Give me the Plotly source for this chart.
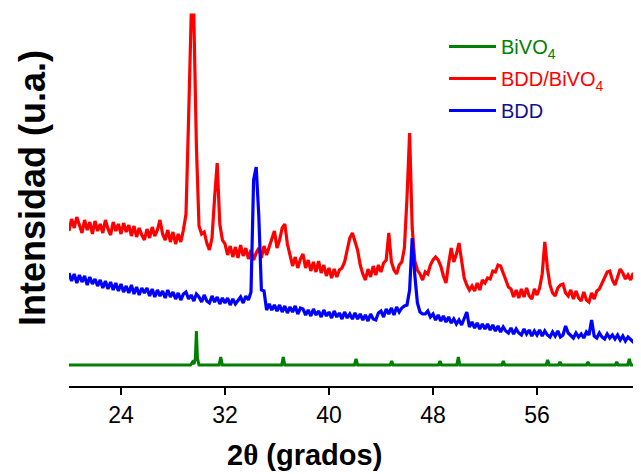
import plotly.graph_objects as go

# ---- data (2theta grid: start + step, as in an XRD scan file) ----
TWO_THETA_START = 20.0
TWO_THETA_STEP = 0.2

# BDD/BiVO4 (red), intensities in a.u., one value per grid step (20.0 ... 64.0)
bdd_bivo4 = [
    155, 167, 158, 169, 161, 153, 166, 156, 164, 152,   # 20.0-21.8
    165, 155, 162, 153, 166, 157, 151, 164, 155, 162,   # 22.0-23.8
    152, 163, 154, 161, 150, 160, 149, 158, 151, 146,   # 24.0-25.8
    157, 148, 159, 150, 156, 166, 152, 146, 156, 144,   # 26.0-27.8
    154, 142, 152, 144, 156, 172, 268, 371, 371, 240,   # 28.0-29.8
    160, 152, 154, 143, 136, 148, 188, 223, 162, 146,   # 30.0-31.8
    142, 131, 140, 129, 139, 128, 141, 130, 138, 127,   # 32.0-33.8
    136, 126, 133, 138, 128, 140, 131, 139, 147, 155,   # 34.0-35.8
    138, 146, 158, 162, 142, 131, 120, 129, 118, 127,   # 36.0-37.8
    132, 118, 126, 115, 124, 114, 125, 113, 121, 110,   # 38.0-39.8
    118, 108, 117, 109, 116, 118, 124, 136, 148, 153,   # 40.0-41.8
    145, 136, 121, 112, 106, 117, 109, 120, 111, 121,   # 42.0-43.8
    114, 123, 126, 153, 124, 116, 112, 121, 124, 138,   # 44.0-45.8
    188, 253, 158, 125, 116, 112, 106, 114, 112, 121,   # 46.0-47.8
    126, 129, 126, 120, 110, 103, 122, 138, 124, 132,   # 48.0-49.8
    143, 124, 108, 101, 96, 100, 95, 103, 96, 106,      # 50.0-51.8
    103, 108, 107, 115, 114, 121, 120, 113, 106, 99,    # 52.0-53.8
    97, 89, 96, 88, 97, 89, 98, 90, 87, 97,             # 54.0-55.8
    91, 98, 112, 144, 118, 101, 93, 90, 98, 101,        # 56.0-57.8
    102, 93, 90, 96, 87, 95, 88, 85, 94, 86,            # 58.0-59.8
    84, 93, 87, 95, 97, 103, 108, 114, 115, 106,        # 60.0-61.8
    101, 110, 117, 113, 107, 111, 106, 113, 104, 111,   # 62.0-63.8
    107,                                                # 64.0
]

# BDD (blue)
bdd = [
    113, 105, 112, 103, 111, 104, 110, 101, 109, 102,   # 20.0-21.8
    107, 100, 106, 98, 105, 97, 104, 96, 103, 95,       # 22.0-23.8
    102, 94, 100, 93, 101, 92, 99, 91, 98, 93,          # 24.0-25.8
    98, 90, 97, 89, 96, 90, 95, 88, 96, 89,             # 26.0-27.8
    94, 87, 93, 86, 92, 94, 87, 91, 85, 92,             # 28.0-29.8
    89, 84, 91, 85, 83, 90, 84, 89, 82, 88,             # 30.0-31.8
    83, 88, 81, 87, 82, 86, 89, 83, 90, 86,             # 32.0-33.8
    94, 206, 219, 170, 96, 95, 76, 82, 76, 81,          # 34.0-35.8
    75, 81, 74, 80, 73, 79, 74, 80, 72, 78,             # 36.0-37.8
    77, 71, 76, 70, 77, 71, 75, 69, 76, 70,             # 38.0-39.8
    74, 68, 75, 69, 73, 67, 74, 68, 72, 67,             # 40.0-41.8
    73, 67, 72, 66, 71, 65, 72, 67, 66, 73,             # 42.0-43.8
    75, 69, 77, 72, 78, 71, 79, 74, 78, 80,             # 44.0-45.8
    81, 96, 148, 111, 83, 74, 72, 72, 75, 69,           # 46.0-47.8
    72, 66, 71, 65, 70, 64, 69, 63, 67, 62,             # 48.0-49.8
    66, 61, 67, 74, 59, 64, 58, 63, 57, 62,             # 50.0-51.8
    57, 62, 56, 61, 55, 60, 54, 59, 55, 53,             # 52.0-53.8
    58, 52, 57, 53, 51, 57, 52, 56, 50, 55,             # 54.0-55.8
    51, 56, 50, 55, 51, 49, 54, 50, 55, 49,             # 56.0-57.8
    51, 60, 53, 50, 48, 53, 49, 52, 48, 54,             # 58.0-59.8
    51, 66, 50, 48, 53, 49, 47, 52, 48, 51,             # 60.0-61.8
    47, 51, 46, 50, 45, 49, 46, 44, 49, 45,             # 62.0-63.8
    47,                                                 # 64.0
]

# BiVO4 (green) reference pattern: flat baseline with sharp reflections
bivo4_two_theta = [20.0, 29.35, 29.5, 29.62, 29.72, 29.8, 29.88, 30.0,
                   31.55, 31.67, 31.8, 36.36, 36.48, 36.6, 41.96, 42.08, 42.2,
                   44.7, 44.82, 44.94, 48.42, 48.54, 48.66, 49.83, 49.95, 50.07,
                   53.29, 53.41, 53.53, 56.7, 56.82, 56.94, 57.65, 57.77, 57.89,
                   59.8, 59.92, 60.04, 62.01, 62.13, 62.25, 62.98, 63.10, 63.22, 64.0]
bivo4 = [21, 21, 24, 22, 28, 55, 28, 21,
         21, 29, 21, 21, 29, 21, 21, 27, 21,
         21, 25, 21, 21, 25, 21, 21, 29, 21,
         21, 25, 21, 21, 26, 21, 21, 24, 21,
         21, 24, 21, 21, 24, 21, 21, 27, 21, 21]

x_ticks = [24, 32, 40, 48, 56]
x_range = [20, 64]
y_range = [0, 378]

two_theta = [round(TWO_THETA_START + i * TWO_THETA_STEP, 2) for i in range(len(bdd_bivo4))]

FONT = "Arial, Liberation Sans, sans-serif"

fig = go.Figure()
fig.add_trace(go.Scatter(
    x=bivo4_two_theta, y=bivo4, mode="lines", legendgroup="g1",
    line=dict(color="#008000", width=3),
    name="<span style='color:#008000'>BiVO<sub>4</sub></span>"))
fig.add_trace(go.Scatter(
    x=two_theta, y=bdd_bivo4, mode="lines", legendgroup="g2",
    line=dict(color="#FF0000", width=3.2),
    name="<span style='color:#FF0000'>BDD/BiVO<sub>4</sub></span>"))
fig.add_trace(go.Scatter(
    x=two_theta, y=bdd, mode="lines", legendgroup="g3",
    line=dict(color="#0000FF", width=3.2),
    name="<span style='color:#10108C'>BDD</span>"))

fig.update_layout(
    width=633, height=466,
    margin=dict(l=61, r=0, t=0, b=88, autoexpand=False),
    paper_bgcolor="white", plot_bgcolor="white",
    font=dict(family=FONT, color="black"),
    showlegend=True,
    legend=dict(x=0.6556, y=0.9497, xanchor="left", yanchor="top",
                bgcolor="rgba(0,0,0,0)", font=dict(size=20, family=FONT),
                itemwidth=47, tracegroupgap=3),
    xaxis=dict(range=x_range, tickmode="array", tickvals=x_ticks,
               ticktext=[str(v) for v in x_ticks], automargin=False,
               showline=True, linecolor="black", linewidth=2,
               ticks="outside", ticklen=7, tickwidth=2, tickcolor="black",
               tickfont=dict(size=23, family=FONT, color="black"),
               showgrid=False, zeroline=False),
    yaxis=dict(range=y_range, showticklabels=False, showline=False,
               showgrid=False, zeroline=False, ticks="", automargin=False),
    annotations=[
        dict(text="2<span style='font-family:Liberation Serif'>θ</span> (grados)",
             xref="paper", yref="paper", x=0.411, y=-0.2302,
             xanchor="center", yanchor="bottom", showarrow=False,
             font=dict(size=29, family=FONT, weight="bold", color="black")),
        dict(text="Intensidad (u.a.)", textangle=-90,
             xref="paper", yref="paper", x=-(61 - 24) / 572, y=1 - 180 / 378,
             xanchor="center", yanchor="middle", showarrow=False,
             font=dict(size=36, family=FONT, weight="bold", color="black")),
    ],
)

fig.write_html("out.html")
